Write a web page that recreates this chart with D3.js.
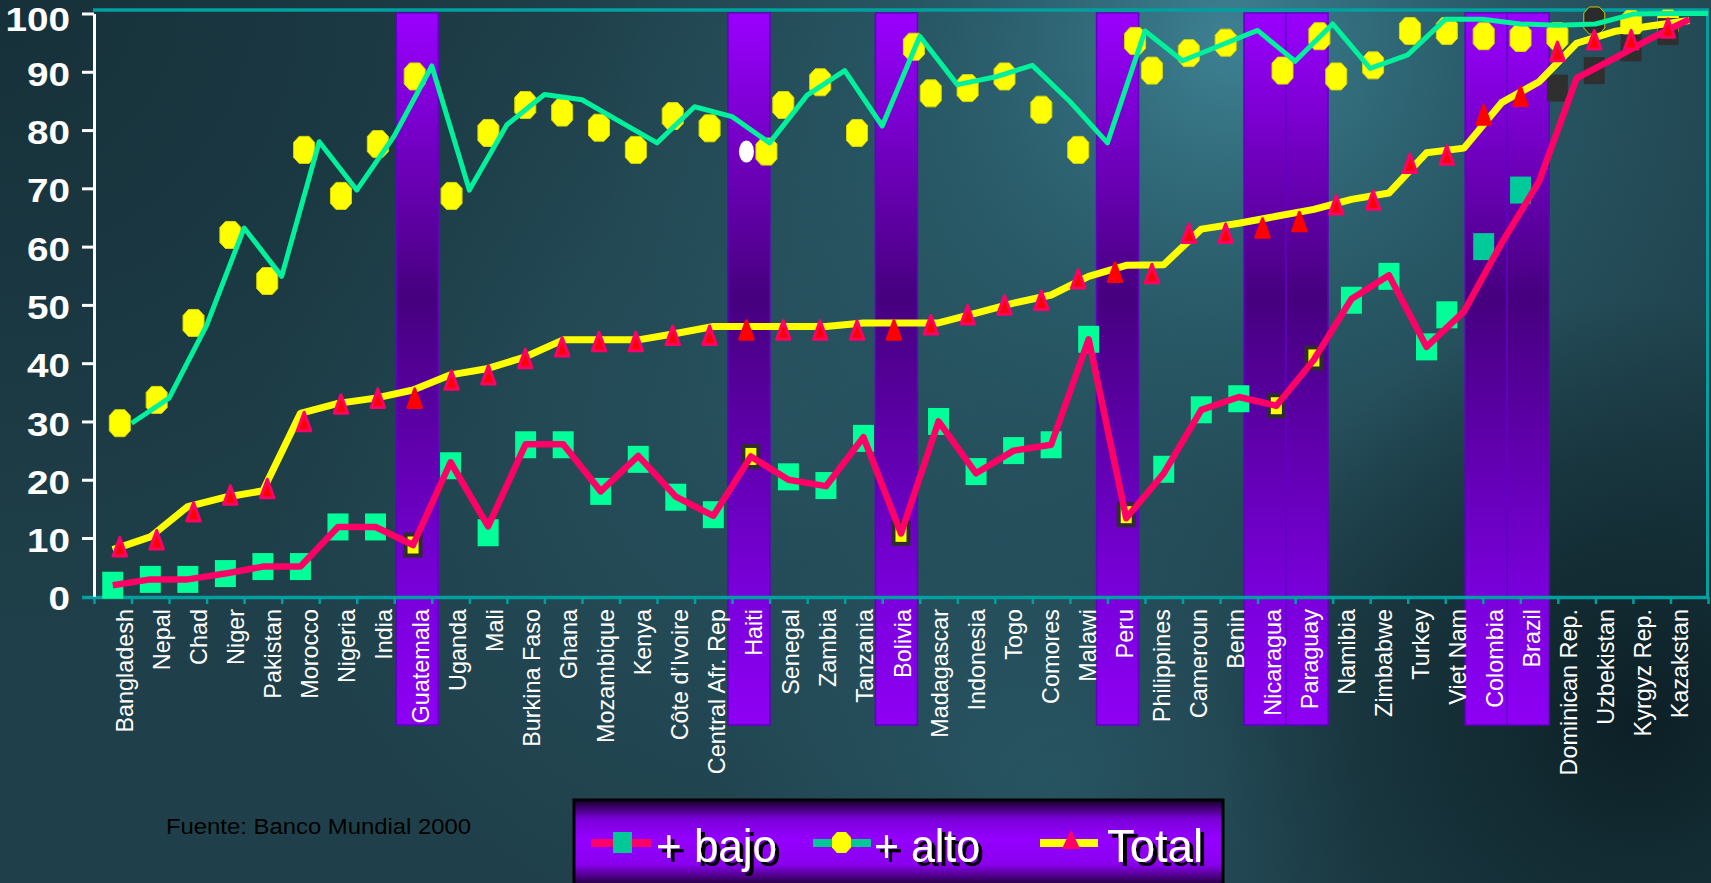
<!DOCTYPE html>
<html><head><meta charset="utf-8">
<script src="https://cdn.jsdelivr.net/npm/d3@7"></script>
<style>html,body{margin:0;padding:0;background:#1e3e48;overflow:hidden}</style>
</head><body>
<svg id="chart" width="1711" height="883"></svg>
<script>
// ---------------- DATA ----------------
const countries = ["Bangladesh","Nepal","Chad","Niger","Pakistan","Morocco","Nigeria","India","Guatemala","Uganda","Mali","Burkina Faso","Ghana","Mozambique","Kenya","Côte d’Ivoire","Central Afr. Rep","Haiti","Senegal","Zambia","Tanzania","Bolivia","Madagascar","Indonesia","Togo","Comores","Malawi","Peru","Philippines","Cameroun","Benin","Nicaragua","Paraguay","Namibia","Zimbabwe","Turkey","Viet Nam","Colombia","Brazil","Dominican Rep.","Uzbekistan","Kyrgyz Rep.","Kazakstan"];

// "+ bajo" (poorest quintile)
const bajoLine  = [1.9,2.9,2.9,3.9,5.1,5.1,11.9,11.9,8.8,23.0,12.0,26.1,26.1,18.0,24.1,17.1,13.8,24.0,20.0,18.9,27.3,10.8,30.0,21.1,25.0,26.0,44.1,13.4,21.1,32.0,34.2,32.7,40.6,51.0,55.1,42.8,48.9,60.6,71.2,88.9,92.3,95.8,99.0];
const bajoMarks = [1.9,2.9,2.9,3.9,5.1,5.1,11.9,11.9,8.8,22.4,10.9,26.0,26.0,18.0,23.5,17.0,14.0,24.0,20.5,19.0,27.1,10.8,30.0,21.4,25.0,26.0,44.1,14.0,21.8,32.0,33.9,32.7,40.9,50.8,54.9,42.8,48.3,60.0,69.7,87.2,90.2,94.1,96.9];
// "+ alto" (richest quintile)
const altoLine  = [29.7,34.0,46.5,63.2,54.9,78.0,69.7,79.0,91.0,69.7,80.9,86.1,85.2,81.5,77.8,84.0,82.3,77.8,86.0,90.2,80.7,96.1,87.8,89.1,91.1,84.9,77.8,97.0,91.9,94.5,97.1,91.8,98.2,90.6,92.9,99.0,99.0,98.2,98.0,98.2,99.9,100,100];
const altoMarks = [29.7,33.7,46.9,62.0,54.1,76.6,68.7,77.6,89.2,68.7,79.5,84.3,83.0,80.4,76.6,82.4,80.3,76.3,84.3,88.2,79.5,94.3,86.3,87.2,89.2,83.5,76.6,95.3,90.2,93.2,95.0,90.2,96.1,89.2,91.1,97.0,97.0,96.1,95.8,96.1,98.8,98.2,98.3];
// "Total"
const totalLine  = [8.0,10.2,15.4,17.0,18.1,31.4,33.1,34.0,35.4,38.0,39.1,41.1,44.0,44.0,44.0,45.1,46.3,46.3,46.3,46.3,46.9,46.9,46.9,48.6,50.3,51.7,54.9,56.8,56.9,63.0,64.0,65.2,66.4,68.1,69.2,76.1,76.9,84.7,88.3,94.9,96.9,97.9,98.8];
const totalMarks = [8.5,9.7,14.5,17.4,18.5,30.0,33.0,34.0,34.0,37.1,38.0,40.8,42.8,43.7,43.7,44.8,44.8,45.7,45.7,45.7,45.7,45.7,46.6,48.3,50.0,50.8,54.5,55.6,55.4,62.3,62.3,63.2,64.3,67.2,68.0,74.3,75.7,82.6,85.8,93.5,95.5,95.5,97.5];

const yTicks = [0,10,20,30,40,50,60,70,80,90,100];

// category groupings
const highlighted = ["Guatemala","Haiti","Bolivia","Peru","Nicaragua","Paraguay","Colombia","Brazil"];
const yellowBajo  = ["Guatemala","Haiti","Bolivia","Peru","Nicaragua","Paraguay"];
const tealBajo    = ["Colombia","Brazil"];
const darkBajo    = ["Dominican Rep.","Uzbekistan","Kyrgyz Rep.","Kazakstan"];
const lateBajo    = ["Viet Nam","Colombia","Brazil","Dominican Rep.","Uzbekistan","Kyrgyz Rep.","Kazakstan"];
const nudgedAlto  = ["Haiti","Bolivia","Peru","Nicaragua","Paraguay"];
const darkAlto    = ["Uzbekistan"];
const ringedAlto  = ["Haiti"];

const legendLabels = ["+ bajo","+ alto","Total"];
const sourceText = "Fuente: Banco Mundial 2000";

// ---------------- DRAWING ----------------
const FONT = "'Liberation Sans', Arial, Helvetica, sans-serif";
const svg = d3.select("#chart");
const defs = svg.append("defs");
const W = 1711, H = 883;

const y = d3.scaleLinear().domain([0,100]).range([596.3,13.5]);
const xBand = d3.scaleBand().domain(countries).range([94,1708]);
const bw = xBand.bandwidth();
const xc = c => xBand(c) + bw/2;
const xMark = d3.scalePoint().domain(countries).range([119.8,1668]);
const xLabel = d3.scalePoint().domain(countries).range([133,1688]);
const xEdge = d3.scaleLinear().domain([0,countries.length]).range([94,1708]);

function radial(id, cx, cy, r, stops){
  const g = defs.append("radialGradient").attr("id",id).attr("gradientUnits","userSpaceOnUse")
    .attr("cx",cx).attr("cy",cy).attr("r",r);
  stops.forEach(s=>g.append("stop").attr("offset",s[0]).attr("stop-color",s[1]).attr("stop-opacity",s[2]));
}
radial("bgLight",1230,40,650,[[0,"#3f8597",0.95],[0.45,"#2f6a7a",0.55],[1,"#2a5a68",0]]);
radial("bgMid",780,430,520,[[0,"#2b5c6a",0.6],[1,"#2b5c6a",0]]);
radial("bgDarkTL",0,0,650,[[0,"#132b34",0.75],[1,"#132b34",0]]);
radial("bgDarkBR",1640,720,420,[[0,"#0a1b21",0.9],[0.6,"#0f252c",0.5],[1,"#0f252c",0]]);
radial("bgLowMid",1050,780,330,[[0,"#2d6272",0.55],[1,"#2d6272",0]]);

const bg = svg.append("g");
bg.append("rect").attr("width",W).attr("height",H).attr("fill","#1f404a");
["bgMid","bgLight","bgLowMid","bgDarkTL","bgDarkBR"].forEach(id=>
  bg.append("rect").attr("width",W).attr("height",H).attr("fill",`url(#${id})`));

// drop shadow for legend text
const f = defs.append("filter").attr("id","shadow").attr("x","-10%").attr("y","-20%").attr("width","130%").attr("height","150%");
f.append("feDropShadow").attr("dx",4).attr("dy",4).attr("stdDeviation",0).attr("flood-color","#000").attr("flood-opacity",1);

// bar gradient
const bg2 = defs.append("linearGradient").attr("id","barGrad").attr("gradientUnits","userSpaceOnUse")
  .attr("x1",0).attr("y1",13).attr("x2",0).attr("y2",725);
[[0,"#9a00ff"],[0.4,"#46007e"],[0.82,"#7a00dc"],[1,"#8e00f4"]].forEach(s=>
  bg2.append("stop").attr("offset",s[0]).attr("stop-color",s[1]));

// highlight bars
const barW = 42;
let prevRight = -Infinity;
const barData = countries.filter(c=>highlighted.includes(c)).map(c=>{
  const x0 = Math.max(xMark(c) + 2.5 - barW/2, prevRight);
  prevRight = x0 + barW;
  return {c, x0};
});
svg.append("g").selectAll("rect").data(barData).join("rect")
  .attr("x",d=>d.x0).attr("y",13).attr("width",barW).attr("height",712)
  .attr("fill","url(#barGrad)").attr("stroke","#6200c4").attr("stroke-width",1.5);

// frame lines (top & right)
svg.append("line").attr("x1",93).attr("x2",1709).attr("y1",10).attr("y2",10)
  .attr("stroke","#00a0a0").attr("stroke-width",3.5);
svg.append("line").attr("x1",1707.5).attr("x2",1707.5).attr("y1",10).attr("y2",598)
  .attr("stroke","#00a0a0").attr("stroke-width",3);

// x labels
svg.append("g").selectAll("text").data(countries).join("text")
  .attr("transform",c=>`translate(${xLabel(c)},609) rotate(-90)`)
  .attr("text-anchor","end").attr("fill","#ffffff")
  .style("font-family",FONT).style("font-size","23.4px").text(c=>c);

// x axis line + ticks
svg.append("line").attr("x1",82).attr("x2",1709).attr("y1",597.5).attr("y2",597.5)
  .attr("stroke","#00a0a0").attr("stroke-width",3.5);
const xAxis = d3.axisBottom(xEdge).tickValues(d3.range(0,countries.length+1)).tickSize(7).tickFormat("");
const gx = svg.append("g").attr("transform","translate(0,597)").call(xAxis);
gx.select(".domain").remove();
gx.selectAll(".tick line").attr("stroke","#00a0a0").attr("stroke-width",2.5);

// y axis
const yAxis = d3.axisLeft(y).tickValues(yTicks).tickSize(12).tickSizeOuter(0).tickPadding(12);
const gy = svg.append("g").attr("transform","translate(94,0)").call(yAxis);
gy.select(".domain").attr("stroke","#ffffff").attr("stroke-width",3);
gy.selectAll(".tick line").attr("stroke","#ffffff").attr("stroke-width",3);
gy.selectAll(".tick text").attr("fill","#ffffff").attr("y",d=>d===100?6:3)
  .attr("textLength",d=>String(d).length*21.5).attr("lengthAdjust","spacingAndGlyphs")
  .style("font-family",FONT).style("font-size","33px").style("font-weight","bold");
gy.selectAll(".tick").filter(d=>d===0).select("line").remove();

// marker shapes
function octagon(w,h,cx,cy){
  const a=w/2,b=h/2;
  return `M${-a+cx},${-b}L${a-cx},${-b}L${a},${-b+cy}L${a},${b-cy}L${a-cx},${b}L${-a+cx},${b}L${-a},${b-cy}L${-a},${-b+cy}Z`;
}
function tri(w,h){ return `M0,${-h/2}L${w/2},${h/2}L${-w/2},${h/2}Z`; }

const marks = svg.append("g");
// alto markers (yellow)
marks.selectAll("path.alto").data(countries).join("path").attr("class","alto")
  .attr("d",octagon(21,27,5.5,6))
  .attr("transform",(c,i)=>`translate(${xMark(c)+(nudgedAlto.includes(c)?20:0)},${y(altoMarks[i])})`)
  .attr("fill",c=>darkAlto.includes(c)?"#2b2b2b":"#ffff00")
  .attr("stroke",c=>darkAlto.includes(c)?"#c8c800":"#d6d600").attr("stroke-width",1);
// white oval marker
marks.selectAll("ellipse.ring").data(countries.filter(c=>ringedAlto.includes(c))).join("ellipse")
  .attr("class","ring").attr("cx",c=>xMark(c)).attr("cy",c=>y(altoMarks[countries.indexOf(c)]))
  .attr("rx",7.5).attr("ry",11).attr("fill","#ffffff");

// bajo markers (squares)
const bajoX = c => lateBajo.includes(c) ? xMark(c) : xc(c);
marks.selectAll("rect.bajo").data(countries).join("rect").attr("class","bajo")
  .each(function(c,i){
    const s = d3.select(this);
    const cx = bajoX(c), cy = y(bajoMarks[i]);
    if (yellowBajo.includes(c)) {
      s.attr("x",cx-7.5).attr("y",cy-10.5).attr("width",15).attr("height",21)
       .attr("fill","#ffff00").attr("stroke","#2e2e2e").attr("stroke-width",4);
    } else {
      s.attr("x",cx-10.5).attr("y",cy-13.5).attr("width",21).attr("height",27)
       .attr("fill", tealBajo.includes(c) ? "#00c99a" : darkBajo.includes(c) ? "#2f2f2f" : "#00ff99");
    }
  });

// lines
const lineAlto = d3.line().x((d,i)=>xBand(countries[i])+bw).y(d=>y(d));
const lineMid  = d3.line().x((d,i)=>xc(countries[i])).y(d=>y(d));
svg.append("path").attr("d",lineAlto(altoLine)).attr("fill","none")
  .attr("stroke","#00f09c").attr("stroke-width",5).attr("stroke-linejoin","round");
svg.append("path").attr("d",lineMid(totalLine)).attr("fill","none")
  .attr("stroke","#ffff00").attr("stroke-width",7).attr("stroke-linejoin","round");
svg.append("path").attr("d",lineMid(bajoLine)).attr("fill","none")
  .attr("stroke","#ff0066").attr("stroke-width",6.5).attr("stroke-linejoin","round");

// total markers (triangles)
svg.append("g").selectAll("path").data(countries).join("path")
  .attr("d",tri(13.5,18.5))
  .attr("transform",(c,i)=>`translate(${xMark(c)},${y(totalMarks[i])})`)
  .attr("fill","#ff0000")
  .attr("stroke",c=>highlighted.includes(c)?"#ff0000":"#ff0066")
  .attr("stroke-width",3).attr("stroke-linejoin","round");

// source note
svg.append("text").attr("x",166).attr("y",834).attr("fill","#000000")
  .attr("textLength",305).attr("lengthAdjust","spacingAndGlyphs")
  .style("font-family",FONT).style("font-size","22px").text(sourceText);

// legend
const lg = defs.append("linearGradient").attr("id","legGrad").attr("x1",0).attr("y1",0).attr("x2",0).attr("y2",1);
[[0,"#160028"],[0.22,"#7a00d8"],[0.45,"#9400ff"],[0.75,"#8a00ee"],[1,"#1a0030"]].forEach(s=>
  lg.append("stop").attr("offset",s[0]).attr("stop-color",s[1]));
const leg = svg.append("g").attr("transform","translate(574,800)");
leg.append("rect").attr("x",0).attr("y",0).attr("width",649).attr("height",86)
  .attr("fill","url(#legGrad)").attr("stroke","#000000").attr("stroke-width",3);
const items = [
  {line:"#ff0066", x0:17, x1:77, marker:"square", mx:48.5, tx:82, len:121},
  {line:"#00c896", x0:239, x1:297, marker:"oct", mx:267.5, tx:300, len:106},
  {line:"#ffff00", x0:466, x1:524, marker:"tri", mx:497, tx:533, len:96}
];
items.forEach((it,k)=>{
  leg.append("line").attr("x1",it.x0).attr("x2",it.x1).attr("y1",43).attr("y2",43)
    .attr("stroke",it.line).attr("stroke-width",8);
  if (it.marker==="square") leg.append("rect").attr("x",it.mx-9.5).attr("y",32).attr("width",19).attr("height",21).attr("fill","#00c896");
  if (it.marker==="oct") leg.append("path").attr("d",octagon(19,21,5,5.5)).attr("transform",`translate(${it.mx},42.5)`).attr("fill","#ffff00");
  if (it.marker==="tri") leg.append("path").attr("d",tri(15,16)).attr("transform",`translate(${it.mx},40)`)
      .attr("fill","#ff0066").attr("stroke","#ff0066").attr("stroke-width",2).attr("stroke-linejoin","round");
  leg.append("text").attr("x",it.tx).attr("y",62).attr("fill","#ffffff")
    .attr("textLength",it.len).attr("lengthAdjust","spacingAndGlyphs")
    .attr("filter","url(#shadow)")
    .style("font-family",FONT).style("font-size","46px").text(legendLabels[k]);
});
</script>
</body></html>
